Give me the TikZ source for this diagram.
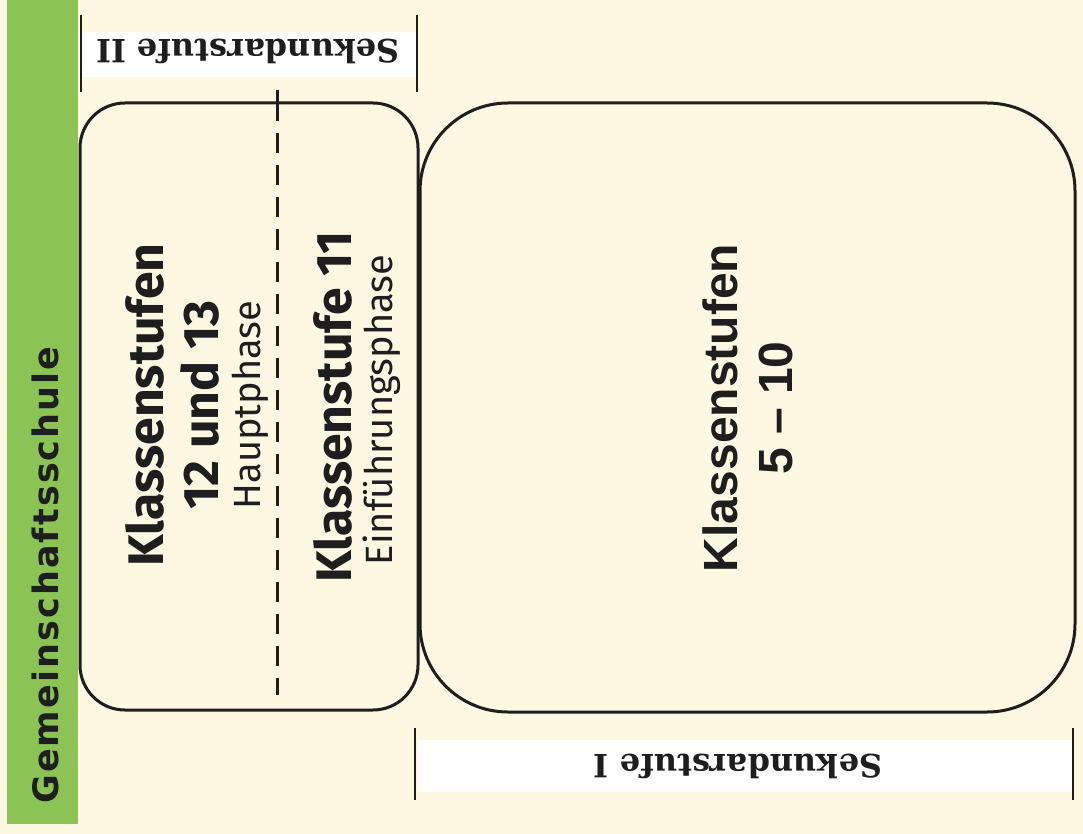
\documentclass[tikz,border=0pt]{standalone}
\usepackage{fontspec}
\setmainfont{Liberation Sans}
\newfontfamily\firaf{Fira Sans}
\newfontfamily\gemf[LetterSpace=6]{DejaVu Sans}
\newfontfamily\slabf{DejaVu Serif}
\definecolor{cream}{HTML}{FCF8E2}
\definecolor{leaf}{HTML}{8CC355}
\definecolor{ink}{HTML}{1E1E1E}
\begin{document}
\begin{tikzpicture}[x=1pt,y=-1pt,
  box/.style={draw=ink,line width=3pt,fill=cream,inner sep=0pt},
  title/.style={text=ink,rotate=90,align=center,font=\firaf\bfseries\fontsize{50}{55}\selectfont},
  sub/.style={text=ink,rotate=90,font=\firaf\fontsize{38}{42}\selectfont},
  band/.style={fill=white,draw=none},
  tick/.style={draw=ink,line width=1.6pt},
  stufe/.style={text=ink,rotate=180,font=\slabf\bfseries\fontsize{32}{36}\selectfont}]
\fill[cream] (0,0) rectangle (1083,834);
\useasboundingbox (0,0) rectangle (1083,834);
\fill[leaf] (7,0) rectangle (78,824);
\node[text=ink,rotate=90,font=\gemf\bfseries\fontsize{35}{40}\selectfont] (gem) at (45,575) {Gemeinschaftsschule};
% Sekundarstufe II
\fill[band] (82,32) rectangle (416,77);
\coordinate (t1a) at (81,15); \coordinate (t1b) at (81,92);
\coordinate (t2a) at (417,15); \coordinate (t2b) at (417,92);
\draw[tick] (t1a) -- (t1b);
\draw[tick] (t2a) -- (t2b);
\node[stufe] (s2) at (248,51) {Sekundarstufe II};
% boxes
\node[box,rounded corners=45pt,minimum width=338pt,minimum height=607pt] (left) at (249,406.5) {};
\node[box,rounded corners=88pt,minimum width=655pt,minimum height=609pt] (right) at (747.5,407.5) {};
% dashed divider
\coordinate (dtop) at (277,90);
\coordinate (dbot) at (277,695);
\draw[draw=ink,line width=3pt] (dtop) -- (left.north -| dtop);
\draw[draw=ink,line width=3pt,dash pattern=on 20pt off 12pt] (left.north -| dtop) -- (dbot);
% texts
\node[title] (k12) at (172,405) {Klassenstufen\\12 und 13};
\node[sub] (hp) at (250,405) {Hauptphase};
\node[title] (k11) at (333,407) {Klassenstufe 11};
\node[sub] (ep) at (382,410) {Einführungsphase};
\node[text=ink,rotate=90,align=center,font=\bfseries\fontsize{48}{55}\selectfont] (k5) at (748,408) {Klassenstufen\\5 – 10};
% Sekundarstufe I
\fill[band] (418,740) rectangle (1072,792);
\coordinate (t3a) at (415,728); \coordinate (t3b) at (415,800);
\coordinate (t4a) at (1073,728); \coordinate (t4b) at (1073,800);
\draw[tick] (t3a) -- (t3b);
\draw[tick] (t4a) -- (t4b);
\node[stufe] (s1) at (738,766) {Sekundarstufe I};
\end{tikzpicture}
\end{document}
